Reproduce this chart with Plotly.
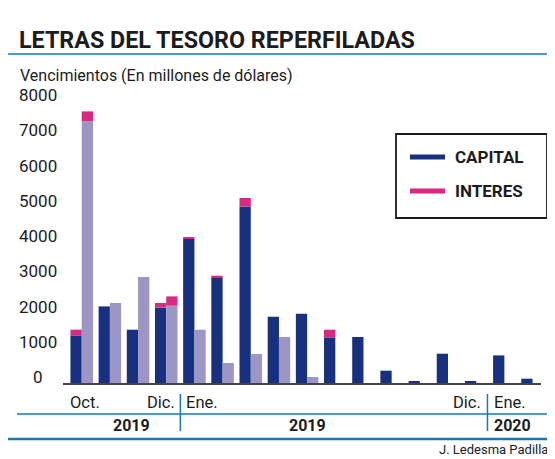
import plotly.graph_objects as go

# vencimientos por letra, en millones de dolares
slots = list(range(17))
capital = [1350, 2173, 1512, 2145, 4085, 2996, 5010, 1880, 1966, 1294, 1305, 349, 37, 831, 37, 783, 122]
interes = [162, 0, 0, 125, 37, 48, 238, 0, 0, 218, 0, 0, 0, 0, 0, 0, 0]
capital_b = [7421, 2270, 3007, 2193, 1512, 567, 823, 1305, 170, None, None, None, None, None, None, None, None]
interes_b = [284, 0, 0, 264, 0, 0, 0, 0, 0, None, None, None, None, None, None, None, None]

y_ticks = [0, 1000, 2000, 3000, 4000, 5000, 6000, 7000, 8000]
mes_labels = ["Oct.", "Dic.", "Ene.", "Dic.", "Ene."]
anio_labels = ["2019", "2019", "2020"]

AZUL = "#17307f"
LILA = "#9d96c4"
ROSA = "#d8287f"
LINEA = "#1679b9"
TEXTO = "#1c1c1c"
FONT = "Roboto"

# the page body keeps an 8px margin, so the figure is 8px smaller
OFF = 8
W, H = 555 - OFF, 459 - OFF
L, R, T, B = 63 - OFF, 14, 101 - OFF, 76


def px(x):
    # window pixel -> paper x
    return (x - OFF - L) / (W - L - R)


def py(y):
    # window pixel -> paper y
    return (H - B - (y - OFF)) / (H - T - B)


fig = go.Figure()
fig.add_bar(x=slots, y=capital, offsetgroup="a", marker_color=AZUL, name="CAPITAL")
fig.add_bar(x=slots, y=capital_b, offsetgroup="b", marker_color=LILA, name="CAPITAL b")
fig.add_bar(x=slots, y=interes, base=capital, offsetgroup="a", marker_color=ROSA, name="INTERES")
fig.add_bar(x=slots, y=interes_b, base=capital_b, offsetgroup="b", marker_color=ROSA, name="INTERES b")
fig.update_traces(marker_line_width=0, hoverinfo="skip")

fig.update_layout(
    width=W, height=H,
    margin=dict(l=L, r=R, t=T, b=B),
    barmode="group", bargap=0.2, bargroupgap=0,
    showlegend=False,
    plot_bgcolor="white", paper_bgcolor="white",
    font=dict(family=FONT, color=TEXTO),
    xaxis=dict(range=[-0.664, 16.30], showticklabels=False, showgrid=False, zeroline=False,
               showline=True, linecolor="#444444", linewidth=1.5, fixedrange=True),
    yaxis=dict(range=[0, 8000], showticklabels=False, showgrid=False, zeroline=False, fixedrange=True),
)

ann = []
# etiquetas del eje y, centradas
for v in y_ticks:
    ann.append(dict(x=px(38), xref="paper", y=v, yref="y", yshift=6, text=str(v), showarrow=False,
                    xanchor="center", yanchor="middle", font=dict(size=17, color=TEXTO)))

# titulo y subtitulo
ann.append(dict(x=px(17), xref="paper", y=py(40), yref="paper", text="<b>LETRAS DEL TESORO REPERFILADAS</b>",
                showarrow=False, xanchor="left", yanchor="middle", font=dict(size=23.3, color=TEXTO)))
ann.append(dict(x=px(18), xref="paper", y=py(75), yref="paper", text="Vencimientos (En millones de dólares)",
                showarrow=False, xanchor="left", yanchor="middle", font=dict(size=16, color=TEXTO)))

# meses y anios
mes_pos = [(-0.5, "left", 0), (3.5, "right", -3), (3.5, "left", 4), (14.4, "right", -4), (14.4, "left", 5)]
for (xv, anchor, shift), txt in zip(mes_pos, mes_labels):
    ann.append(dict(x=xv, xref="x", xshift=shift, y=py(402), yref="paper", text=txt, showarrow=False,
                    xanchor=anchor, yanchor="middle", font=dict(size=16.5, color=TEXTO)))
anio_pos = [(1.75, "center", 0), (8.0, "center", 0), (14.4, "left", 5)]
for (xv, anchor, shift), txt in zip(anio_pos, anio_labels):
    ann.append(dict(x=xv, xref="x", xshift=shift, y=py(425), yref="paper", text="<b>%s</b>" % txt,
                    showarrow=False, xanchor=anchor, yanchor="middle", font=dict(size=16, color=TEXTO)))

ann.append(dict(x=px(550), xref="paper", y=py(449), yref="paper", text="J. Ledesma Padilla", showarrow=False,
                xanchor="right", yanchor="middle", font=dict(size=13, color=TEXTO)))

# leyenda
for yy, txt in [(157, "CAPITAL"), (191, "INTERES")]:
    ann.append(dict(x=px(453), xref="paper", y=py(yy), yref="paper", text="<b>%s</b>" % txt, showarrow=False,
                    xanchor="left", yanchor="middle", font=dict(size=17, color=TEXTO)))
fig.update_layout(annotations=ann)

shapes = [
    dict(type="line", xref="paper", yref="paper", x0=px(0), x1=px(555), y0=py(54), y1=py(54),
         line=dict(color=LINEA, width=1.5)),
    dict(type="line", xref="paper", yref="paper", x0=px(17), x1=px(555), y0=py(414), y1=py(414),
         line=dict(color=LINEA, width=1.5)),
    dict(type="line", xref="paper", yref="paper", x0=px(0), x1=px(555), y0=py(439), y1=py(439),
         line=dict(color=LINEA, width=2.5)),
    dict(type="rect", xref="paper", yref="paper", x0=px(396), x1=px(547), y0=py(134), y1=py(218),
         line=dict(color="#1a1a1a", width=1.8), fillcolor="rgba(0,0,0,0)"),
    dict(type="line", xref="paper", yref="paper", x0=px(410), x1=px(445), y0=py(157), y1=py(157),
         line=dict(color=AZUL, width=5)),
    dict(type="line", xref="paper", yref="paper", x0=px(410), x1=px(445), y0=py(191), y1=py(191),
         line=dict(color=ROSA, width=5)),
]
for xv in [3.5, 14.4]:
    shapes.append(dict(type="line", xref="x", yref="paper", x0=xv, x1=xv, y0=py(394), y1=py(431),
                       line=dict(color=LINEA, width=1.5)))
fig.update_layout(shapes=shapes)

fig.write_html("out.html")
